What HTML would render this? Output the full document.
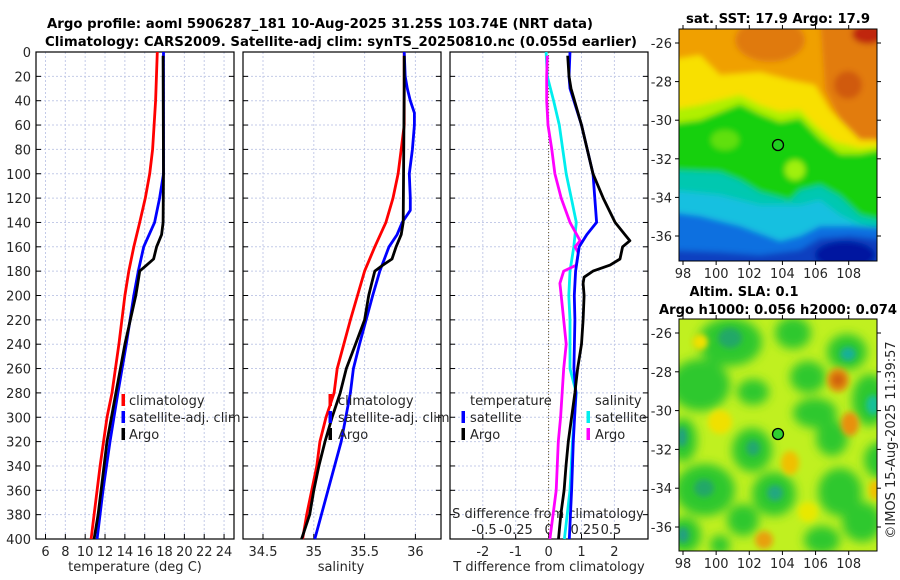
<!DOCTYPE html>
<html><head><meta charset="utf-8">
<style>
html,body{margin:0;padding:0;background:#fff;}
svg{display:block;font-family:"DejaVu Sans","Liberation Sans",sans-serif;}
</style></head>
<body>
<svg id="chart" width="900" height="580" viewBox="0 0 900 580">
<defs>
<clipPath id="clipSST"><rect x="679" y="29" width="198" height="232"/></clipPath>
<clipPath id="clipSLA"><rect x="679" y="319" width="198" height="232"/></clipPath>
<filter id="blur3"><feGaussianBlur stdDeviation="3"/></filter>
<filter id="blur6"><feGaussianBlur stdDeviation="5"/></filter>
</defs>
<g id="titles" font-weight="bold" font-size="13" fill="#000">
<text x="320" y="28" text-anchor="middle" textLength="546" lengthAdjust="spacingAndGlyphs">Argo profile: aoml 5906287_181 10-Aug-2025 31.25S 103.74E (NRT data)</text>
<text x="341" y="46" text-anchor="middle" textLength="592" lengthAdjust="spacingAndGlyphs">Climatology: CARS2009. Satellite-adj clim: synTS_20250810.nc (0.055d earlier)</text>
<text x="778" y="23" text-anchor="middle" textLength="184" lengthAdjust="spacingAndGlyphs">sat. SST: 17.9 Argo: 17.9</text>
<text x="744" y="296" text-anchor="middle" textLength="109" lengthAdjust="spacingAndGlyphs">Altim. SLA: 0.1</text>
<text x="778" y="314" text-anchor="middle" textLength="238" lengthAdjust="spacingAndGlyphs">Argo h1000: 0.056 h2000: 0.074</text>
</g>

<!-- SST map -->
<g clip-path="url(#clipSST)">
<g filter="url(#blur3)">
<rect x="670" y="20" width="220" height="250" fill="#f0a000"/>
<ellipse cx="770" cy="40" rx="35" ry="22" fill="#e07a10"/>
<polygon points="820,20 890,20 890,150 860,140 840,120 825,90" fill="#e27c08"/>
<ellipse cx="848" cy="85" rx="14" ry="14" fill="#d05a10"/>
<ellipse cx="868" cy="34" rx="16" ry="10" fill="#c02808"/>
<polygon points="670,60 700,55 720,75 760,72 790,80 815,85 830,110 845,125 860,140 877,140 890,150 890,270 670,270" fill="#f8e000"/>
<polygon points="670,110 700,105 740,95 760,105 780,112 800,110 815,125 835,142 860,148 890,145 890,270 670,270" fill="#b0f000"/>
<polygon points="670,124 700,120 740,104 760,114 780,122 800,118 820,139 840,154 860,154 890,148 890,270 670,270" fill="#14d010"/>
<ellipse cx="795" cy="170" rx="10" ry="10" fill="#a0f010"/>
<ellipse cx="725" cy="140" rx="14" ry="10" fill="#60e010"/>
<polygon points="670,170 720,172 740,180 760,192 790,200 800,190 820,185 840,196 860,215 890,222 890,270 670,270" fill="#00c8b0"/>
<polygon points="670,190 720,195 740,200 760,205 800,205 820,200 840,215 860,225 890,230 890,270 670,270" fill="#18c0e0"/>
<polygon points="670,212 700,216 740,226 780,241 800,236 820,226 850,226 890,228 890,270 670,270" fill="#1070e0"/>
<polygon points="670,250 720,252 760,255 800,250 820,238 850,236 890,240 890,270 670,270" fill="#0840c0"/>
<ellipse cx="845" cy="255" rx="30" ry="14" fill="#0018a0"/>
</g>
<circle cx="778" cy="145" r="5.5" fill="#20d020" stroke="#000" stroke-width="1.3"/>
</g>
<rect x="679" y="29" width="198" height="232" fill="none" stroke="#000" stroke-width="1"/>

<!-- SLA map -->
<g clip-path="url(#clipSLA)">
<rect x="670" y="310" width="220" height="250" fill="#c0f020"/>
<g filter="url(#blur6)" fill="#2ec82e">
<ellipse cx="730" cy="342" rx="32" ry="24"/>
<ellipse cx="793" cy="333" rx="18" ry="16"/>
<ellipse cx="847" cy="352" rx="20" ry="18"/>
<ellipse cx="808" cy="377" rx="18" ry="16"/>
<ellipse cx="700" cy="385" rx="30" ry="26"/>
<ellipse cx="753" cy="392" rx="16" ry="13"/>
<ellipse cx="815" cy="413" rx="22" ry="15"/>
<ellipse cx="832" cy="438" rx="16" ry="18"/>
<ellipse cx="870" cy="400" rx="18" ry="26"/>
<ellipse cx="752" cy="450" rx="20" ry="22"/>
<ellipse cx="683" cy="440" rx="14" ry="22"/>
<ellipse cx="705" cy="490" rx="30" ry="26"/>
<ellipse cx="774" cy="494" rx="22" ry="22"/>
<ellipse cx="743" cy="520" rx="16" ry="16"/>
<ellipse cx="840" cy="492" rx="22" ry="24"/>
<ellipse cx="685" cy="535" rx="16" ry="18"/>
<ellipse cx="862" cy="522" rx="20" ry="20"/>
<ellipse cx="822" cy="540" rx="18" ry="14"/>
<ellipse cx="880" cy="460" rx="16" ry="18"/>
<ellipse cx="720" cy="545" rx="10" ry="10"/>
</g>
<g filter="url(#blur3)">
<ellipse cx="730" cy="338" rx="12" ry="10" fill="#20a868"/>
<ellipse cx="848" cy="354" rx="8" ry="7" fill="#18b098"/>
<ellipse cx="873" cy="405" rx="7" ry="10" fill="#18c098"/>
<ellipse cx="753" cy="448" rx="7" ry="8" fill="#20a870"/>
<ellipse cx="704" cy="488" rx="10" ry="9" fill="#20a868"/>
<ellipse cx="775" cy="493" rx="8" ry="8" fill="#20a880"/>
<ellipse cx="682" cy="437" rx="5" ry="10" fill="#20a080"/>
<ellipse cx="683" cy="535" rx="6" ry="8" fill="#20a080"/>
<ellipse cx="700" cy="342" rx="8" ry="8" fill="#f0e000"/>
<ellipse cx="720" cy="422" rx="12" ry="12" fill="#f0e000"/>
<ellipse cx="790" cy="463" rx="9" ry="12" fill="#f0c000"/>
<ellipse cx="808" cy="512" rx="10" ry="10" fill="#e8e800"/>
<ellipse cx="838" cy="380" rx="11" ry="12" fill="#e08a10"/>
<ellipse cx="838" cy="380" rx="6" ry="6" fill="#d06010"/>
<ellipse cx="850" cy="424" rx="9" ry="12" fill="#e89010"/>
<ellipse cx="764" cy="540" rx="9" ry="9" fill="#e8a010"/>
<ellipse cx="875" cy="490" rx="6" ry="10" fill="#f0c000"/>
</g>
<circle cx="778" cy="434" r="5.5" fill="#30d030" stroke="#000" stroke-width="1.3"/>
</g>
<rect x="679" y="319" width="198" height="232" fill="none" stroke="#000" stroke-width="1"/>

<text transform="translate(895,440) rotate(-90)" text-anchor="middle" font-size="13" fill="#262626">©IMOS 15-Aug-2025 11:39:57</text>
</svg>

<script>
// ---- data ----
const depthTicks = [0,20,40,60,80,100,120,140,160,180,200,220,240,260,280,300,320,340,360,380,400];
const tempTicks = [6,8,10,12,14,16,18,20,22,24];
const salTicks = [34.5,35,35.5,36];
const salTickLabels = ["34.5","35","35.5","36"];
const tdiffTicks = [-2,-1,0,1,2];
const sdiffTicks = [-0.5,-0.25,0,0.25,0.5];
const sdiffTickLabels = ["-0.5","-0.25","0","0.25","0.5"];
const latTicks = [-26,-28,-30,-32,-34,-36];
const lonTicks = [98,100,102,104,106,108];

const tClimDepth = [0,40,80,100,120,140,160,180,200,240,280,300,340,380,400];
const tClimValues = [17.27,17.1,16.8,16.5,16.06,15.5,14.9,14.4,14.0,13.4,12.7,12.2,11.5,10.9,10.6];
const tSatDepth = [0,100,120,140,160,180,200,240,280,320,360,400];
const tSatValues = [17.9,17.9,17.5,17.0,15.9,15.35,14.9,14.15,13.3,12.5,11.8,11.2];
const tArgoDepth = [3,100,140,150,160,170,175,180,190,200,240,280,320,360,380,400];
const tArgoValues = [17.85,17.9,17.85,17.7,17.2,16.9,16.2,15.5,15.3,15.1,14.0,13.1,12.2,11.6,11.3,10.9];

const sClimDepth = [0,60,80,100,120,140,160,180,200,220,260,280,300,320,340,380,400];
const sClimValues = [35.89,35.89,35.86,35.83,35.78,35.71,35.60,35.50,35.43,35.36,35.23,35.2,35.12,35.06,35.03,34.93,34.89];
const sSatDepth = [0,20,30,40,50,60,80,100,120,130,140,150,160,180,200,240,260,280,320,360,400];
const sSatValues = [35.89,35.9,35.92,35.95,35.99,35.99,35.97,35.94,35.95,35.95,35.87,35.82,35.74,35.65,35.58,35.45,35.39,35.36,35.27,35.14,35.01];
const sArgoDepth = [3,30,140,150,160,170,175,180,190,200,220,240,260,280,300,320,340,360,380,400];
const sArgoValues = [35.89,35.89,35.88,35.86,35.81,35.77,35.68,35.6,35.57,35.54,35.5,35.41,35.32,35.26,35.18,35.11,35.05,35.0,34.96,34.88];

const dTSatDepth = [0,20,30,60,100,140,150,160,180,200,220,260,280,320,360,400];
const dTSatValues = [0.65,0.62,0.65,1.0,1.35,1.46,1.16,0.93,0.82,0.78,0.80,0.77,0.83,0.75,0.70,0.63];
const dTArgoDepth = [3,20,30,60,100,120,140,150,155,160,170,175,180,185,190,200,220,240,260,280,300,320,340,360,380,400];
const dTArgoValues = [0.58,0.62,0.68,1.0,1.35,1.66,2.02,2.32,2.47,2.25,2.17,1.87,1.35,1.08,1.05,1.08,1.05,1.0,0.88,0.8,0.7,0.6,0.53,0.47,0.37,0.3];
const dSSatDepth = [0,20,40,60,100,120,140,160,180,200,220,260,280,320,360,400];
const dSSatValues = [-0.02,-0.01,0.04,0.085,0.14,0.18,0.22,0.2,0.17,0.16,0.17,0.17,0.22,0.19,0.17,0.125];
const dSArgoDepth = [3,20,40,60,80,100,120,140,155,160,165,175,180,190,200,220,240,260,300,320,360,400];
const dSArgoValues = [-0.01,-0.015,-0.015,-0.005,0.025,0.05,0.10,0.17,0.25,0.21,0.235,0.22,0.12,0.09,0.1,0.12,0.14,0.12,0.095,0.077,0.06,0.01];

// ---- axes ----
const TOP=52, BOT=539;
function yD(d){return TOP + d*(BOT-TOP)/400;}
function xT(t){return 45.5 + (t-6)*9.92;}
function xS(s){return 313.8 + (s-35)*101.6;}
function xTd(v){return 548.6 + v*32.9;}
function xSd(v){return 548.6 + v*126;}
function yLat(l){return 43 + (-26-l)*19.3;}
function yLat2(l){return 333 + (-26-l)*19.4;}
function xLon(l){return 683 + (l-98)*16.57;}

const NS="http://www.w3.org/2000/svg";
const svg=document.getElementById('chart');
function mk(tag, attrs, parent){
  const e=document.createElementNS(NS,tag);
  for(const k in attrs) e.setAttribute(k, attrs[k]);
  (parent||svg).appendChild(e);
  return e;
}
function txt(x,y,s,anchor,size,parent){
  const t=mk('text',{x:x,y:y,'text-anchor':anchor||'middle','font-size':size||13,fill:'#262626'},parent);
  t.textContent=s;
  return t;
}

const panels=[
  {x0:36,x1:234,name:'temperature-panel'},
  {x0:243,x1:441,name:'salinity-panel'},
  {x0:450,x1:648,name:'difference-panel'}
];
const vgrid=[tempTicks.map(xT), salTicks.map(xS), tdiffTicks.map(xTd)];

panels.forEach((p,i)=>{
  const g=mk('g',{});
  
  
  depthTicks.forEach(d=>{
    const l=mk('line',{x1:p.x0,x2:p.x1,y1:yD(d),y2:yD(d),stroke:'#c4cbe8','stroke-width':1,'stroke-dasharray':'2,2'},g);
    
    
    mk('line',{x1:p.x0,x2:p.x0+5,y1:yD(d),y2:yD(d),stroke:'#000'},g);
    mk('line',{x1:p.x1-5,x2:p.x1,y1:yD(d),y2:yD(d),stroke:'#000'},g);
  });
  vgrid[i].forEach(x=>{
    const l=mk('line',{x1:x,x2:x,y1:TOP,y2:BOT,stroke:'#c4cbe8','stroke-width':1,'stroke-dasharray':'2,2'},g);
    
    
    mk('line',{x1:x,x2:x,y1:BOT-5,y2:BOT,stroke:'#000'},g);
  });
  const fr=mk('rect',{x:p.x0,y:TOP,width:p.x1-p.x0,height:BOT-TOP,fill:'none',stroke:'#000','stroke-width':1.2},g);
  
  
});

// zero line in diff panel
const zl=mk('line',{x1:xTd(0),x2:xTd(0),y1:TOP,y2:BOT,stroke:'#6b5a2a','stroke-width':1,'stroke-dasharray':'1,2'});



// tick labels
depthTicks.forEach(d=>{
  const t=txt(31,yD(d)+5,String(d),'end',13);
  
  
});
tempTicks.forEach(v=>{
  const t=txt(xT(v),556,String(v),'middle',13);
  
  
});
salTicks.forEach((v,i)=>{
  const t=txt(xS(v),556,salTickLabels[i],'middle',13);
  
  
});
tdiffTicks.forEach(v=>{
  const t=txt(xTd(v),556,String(v),'middle',13);
  
  
});
const sdx=[484,516,548.6,585,611];
sdiffTicks.forEach((v,i)=>{
  const t=txt(sdx[i],534,sdiffTickLabels[i],'middle',13);
  
  
});
let at;
at=txt(135,571,'temperature (deg C)','middle',13);


at=txt(341,571,'salinity','middle',13);


at=txt(549,571,'T difference from climatology','middle',13);


at=txt(548,518,'S difference from climatology','middle',13);



// series
function series(depths, vals, xf, color, name){
  const pts=depths.map((d,i)=>xf(vals[i]).toFixed(1)+','+yD(d).toFixed(1)).join(' ');
  const pl=mk('polyline',{points:pts,fill:'none',stroke:color,'stroke-width':2.8,'stroke-linejoin':'round'});
  
  
}
series(tClimDepth,tClimValues,xT,'#ff0000','temperature-climatology-line');
series(tSatDepth,tSatValues,xT,'#0000ff','temperature-satellite-line');
series(tArgoDepth,tArgoValues,xT,'#000000','temperature-argo-line');
series(sClimDepth,sClimValues,xS,'#ff0000','salinity-climatology-line');
series(sSatDepth,sSatValues,xS,'#0000ff','salinity-satellite-line');
series(sArgoDepth,sArgoValues,xS,'#000000','salinity-argo-line');
series(dSSatDepth,dSSatValues,xSd,'#00eeee','s-diff-satellite-line');
series(dSArgoDepth,dSArgoValues,xSd,'#ff00ff','s-diff-argo-line');
series(dTSatDepth,dTSatValues,xTd,'#0000ff','t-diff-satellite-line');
series(dTArgoDepth,dTArgoValues,xTd,'#000000','t-diff-argo-line');

// legends
function legendEntry(mx, tx, y, color, label){
  const g=mk('g',{});
  
  
  if(color) mk('rect',{x:mx-1.5,y:y-11,width:3.5,height:12,fill:color},g);
  txt(tx,y,label,'start',13,g);
}
legendEntry(123,129,405,'#ff0000','climatology');
legendEntry(123,129,422,'#0000ff','satellite-adj. clim');
legendEntry(123,129,439,'#000000','Argo');
legendEntry(330,338,405,'#ff0000','climatology');
legendEntry(330,338,422,'#0000ff','satellite-adj. clim');
legendEntry(330,338,439,'#000000','Argo');
legendEntry(0,470,405,null,'temperature');
legendEntry(463,470,422,'#0000ff','satellite');
legendEntry(463,470,439,'#000000','Argo');
legendEntry(0,595,405,null,'salinity');
legendEntry(588,595,422,'#00eeee','satellite');
legendEntry(588,595,439,'#ff00ff','Argo');

// map ticks
latTicks.forEach(l=>{
  [[yLat(l),'sst'],[yLat2(l),'sla']].forEach(([y,m])=>{
    mk('line',{x1:679,x2:675,y1:y,y2:y,stroke:'#000'});
    mk('line',{x1:877,x2:881,y1:y,y2:y,stroke:'#000'});
    const t=txt(672,y+5,String(l),'end',13);
    
    
  });
});
lonTicks.forEach(l=>{
  [[261,'sst'],[551,'sla']].forEach(([y,m])=>{
    mk('line',{x1:xLon(l),x2:xLon(l),y1:y,y2:y+4,stroke:'#000'});
    mk('line',{x1:xLon(l),x2:xLon(l),y1:y-232,y2:y-236,stroke:'#000'});
    const t=txt(xLon(l),y+17,String(l),'middle',13);
    
    
  });
});
</script>
</body></html>
